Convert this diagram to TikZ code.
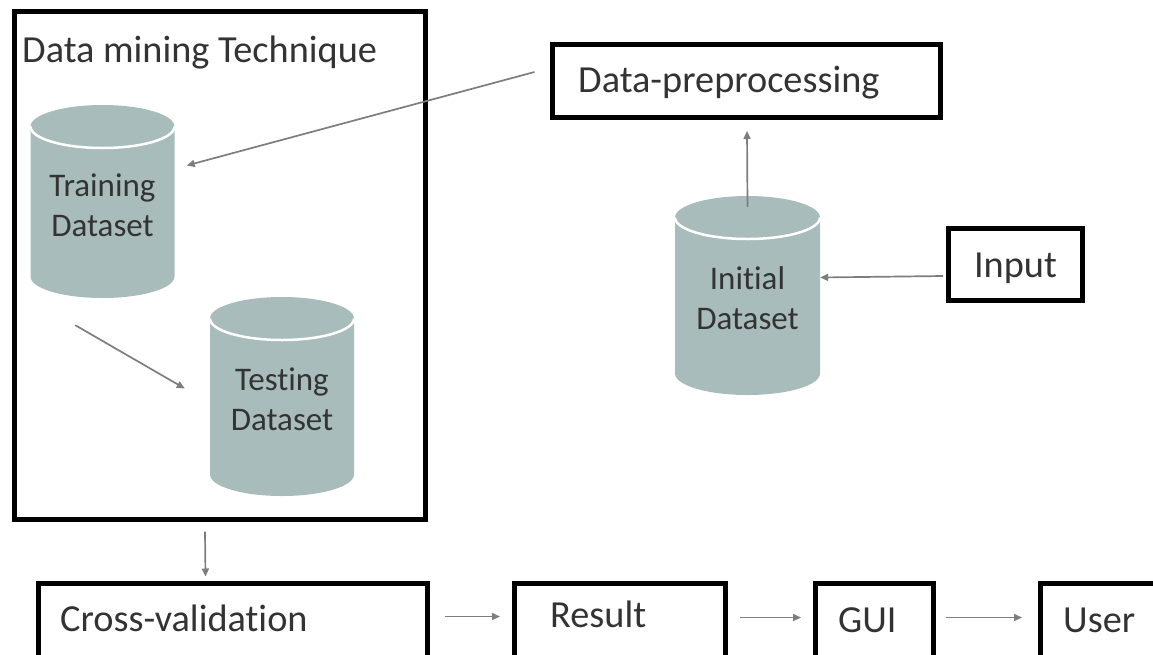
\documentclass[tikz,border=0pt]{standalone}
\usepackage{fontspec}
\setmainfont{Carlito}[Ligatures=NoCommon]
\usetikzlibrary{arrows.meta,calc}
\definecolor{cylfill}{RGB}{167,188,187}
\definecolor{txt}{RGB}{51,51,51}
\definecolor{arrgray}{RGB}{125,125,125}
\tikzset{
  box/.style={draw=black, line width=5pt},
  boxtext/.style={text=txt, font=\fontsize{38.3}{46}\selectfont, inner sep=0pt},
  cyltext/.style={text=txt, font=\fontsize{33}{40}\selectfont, align=center, inner sep=0pt},
  arr/.style={draw=arrgray, line width=1.7pt, -{Triangle[length=8pt,width=7pt]}},
}
\newcommand{\mycyl}[4]{% cx, ytop, ybottom, rx
  \fill[cylfill] (#1-#4,#2+21.5) arc[x radius=#4, y radius=21.5, start angle=180, end angle=360]
     -- (#1+#4,#3-21.5) arc[x radius=#4, y radius=21.5, start angle=0, end angle=180] -- cycle;
  \draw[white, line width=2.5pt] (#1-#4,#2+21.5) arc[x radius=#4, y radius=21.5, start angle=180, end angle=0];
}
\begin{document}
\begin{tikzpicture}[x=1pt,y=-1pt]
\useasboundingbox (0,0) rectangle (1153,654);
\clip (0,0) rectangle (1153,654);
% big box
\node[box, minimum width=411pt, minimum height=508pt, inner sep=0pt] (dm) at (220,265) {};
\node[boxtext, anchor=base west] (dmt) at (22,62) {Data mining Technique};
% cylinders
\mycyl{102.5}{105}{298}{72}
\node[cyltext, minimum width=144pt, minimum height=193pt] (train) at (102.5,201.5) {};
\node[cyltext] (traint) at (102.5,205) {Training\\Dataset};
\mycyl{282}{297}{496}{72}
\node[cyltext, minimum width=144pt, minimum height=199pt] (test) at (282,396.5) {};
\node[cyltext] (testt) at (282,399) {Testing\\Dataset};
\mycyl{747.5}{196}{395}{72.5}
\node[cyltext, minimum width=145pt, minimum height=199pt] (init) at (747.5,295.5) {};
\node[cyltext] (initt) at (747.5,298.5) {Initial\\Dataset};
% boxes
\node[box, minimum width=388pt, minimum height=73pt, inner sep=0pt] (dp) at (746,81) {};
\node[boxtext, anchor=base west] (dpt) at (578,92) {Data-preprocessing};
\node[box, minimum width=134pt, minimum height=72pt, inner sep=0pt] (inp) at (1015.5,264) {};
\node[boxtext] (inpt) at (1015.5,268) {Input};
\node[box, minimum width=389pt, minimum height=110pt, inner sep=0pt, anchor=north west] (cv) at (35.5,580.5) {};
\node[boxtext, anchor=base west] (cvt) at (60,631) {Cross-validation};
\node[box, minimum width=211pt, minimum height=110pt, inner sep=0pt, anchor=north west] (res) at (512,580.5) {};
\node[boxtext, anchor=base west] (rest) at (550,627) {Result};
\node[box, minimum width=118pt, minimum height=110pt, inner sep=0pt, anchor=north west] (gui) at (813,580.5) {};
\node[boxtext, anchor=base west] (guit) at (838,632) {GUI};
\node[box, minimum width=140pt, minimum height=110pt, inner sep=0pt, anchor=north west] (usr) at (1038,580.5) {};
\node[boxtext, anchor=base west] (usrt) at (1063,632) {User};
% connectors
\draw[arr] ($(dp.west)+(-15,-9)$) -- ($(train.east)+(12,-36)$);
\draw[arr] ($(train.south west)+(45,27)$) -- ($(test.west)+(-25,-8)$);
\draw[arr] ($(init.north)+(0,11)$) -- ($(dp.south)+(1,11)$);
\draw[arr] ($(inp.west)+(-3,12)$) -- ($(init.east)+(0,-18)$);
\draw[arr] ($(dm.south west)+(193,10)$) -- ($(cv.north west)+(170,-4)$);
\draw[arr] ($(cv.north east)+(15,36)$) -- ($(res.north west)+(-12,36)$);
\draw[arr] ($(res.north east)+(12,37)$) -- ($(gui.north west)+(-12,37)$);
\draw[arr] ($(gui.north east)+(10,37)$) -- ($(usr.north west)+(-16,37)$);
\end{tikzpicture}
\end{document}
